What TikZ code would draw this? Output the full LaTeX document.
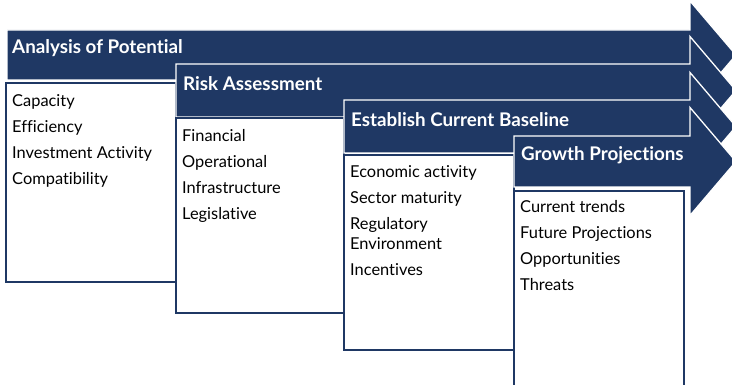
\documentclass[tikz,border=0pt]{standalone}
\usepackage{fontspec}
\setmainfont{Lato}[Ligatures=NoCommon]
\usetikzlibrary{positioning}
\definecolor{navy}{HTML}{1F3864}

\tikzset{
  stage/.style={fill=navy, draw=white, line width=1.3pt, line join=miter},
  listbox/.style={draw=navy, fill=white, line width=1.3pt},
  title/.style={anchor=west, inner sep=0pt, text=white,
                font=\bfseries\fontsize{18.8}{20}\selectfont},
  items/.style={anchor=north west, inner sep=0pt, align=left,
                font=\fontsize{16.4}{26}\selectfont}
}

\begin{document}
\begin{tikzpicture}[x=1pt, y=-1pt]
    \useasboundingbox (0,0) rectangle (732,385);

    % analysis of potential
    \draw [stage] (7,30) -- (690,30) -- (690,1) -- (736,55)
          -- (690,109) -- (690,80) -- (7,80) -- cycle;
    \node [title] (potential) at (12,48) {Analysis of Potential};
    \draw [listbox] (6,83) rectangle (176,282);
    \node [items] (potential-list) at (12,94)
          {Capacity\\Efficiency\\Investment Activity\\Compatibility};

    % risk assessment
    \draw [stage] (176,64) -- (690,64) -- (690,36.5) -- (736,90.5)
          -- (690,144.5) -- (690,117) -- (176,117) -- cycle;
    \node [title] (risk) at (183,84) {Risk Assessment};
    \draw [listbox] (176,118) rectangle (344,313);
    \node [items] (risk-list) at (182,129)
          {Financial\\Operational\\Infrastructure\\Legislative};

    % establish current baseline
    \draw [stage] (344,100) -- (690,100) -- (690,72.5) -- (736,126.5)
          -- (690,180.5) -- (690,153) -- (344,153) -- cycle;
    \node [title] (baseline) at (351,120) {Establish Current Baseline};
    \draw [listbox] (344,155) rectangle (514,350);
    \node [items] (baseline-list) at (350,165)
          {Economic activity\\Sector maturity\\Regulatory\\[-6pt]Environment\\Incentives};

    % growth projections
    \draw [stage] (514,136) -- (690,136) -- (690,107.5) -- (736,161.5)
          -- (690,215.5) -- (690,187) -- (514,187) -- cycle;
    \node [title] (growth) at (521,155) {Growth Projections};
    \draw [listbox] (514,191) rectangle (684,400);
    \node [items] (growth-list) at (520,200)
          {Current trends\\Future Projections\\Opportunities\\Threats};
\end{tikzpicture}
\end{document}
